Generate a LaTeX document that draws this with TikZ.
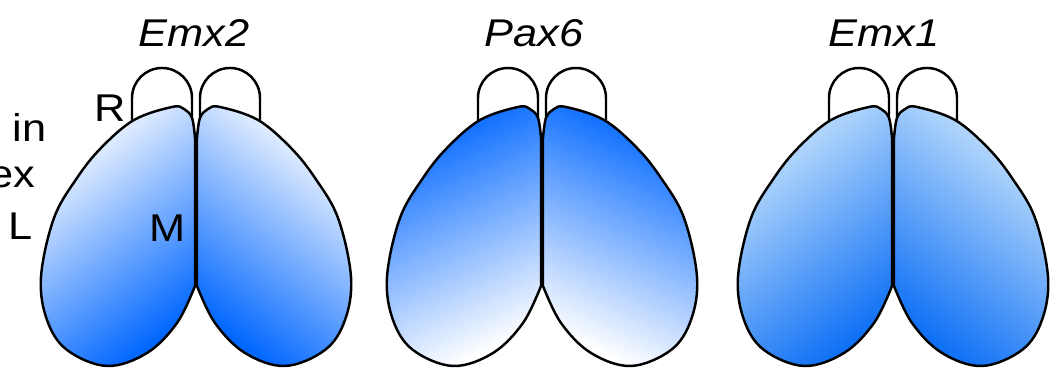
\documentclass[tikz,border=0pt]{standalone}
\usepackage{fontspec}
\setmainfont{Liberation Sans}[FakeStretch=1.12]

\definecolor{cortex}{RGB}{0,102,255}
\definecolor{pale}{RGB}{200,228,252}
\definecolor{emxblue}{RGB}{15,112,245}

\tikzset{
	lobe/.style={draw=black, line width=0.7pt},
	bulb/.style={draw=black, line width=0.7pt, fill=white},
	gene/.style={font=\fontsize{11}{13}\selectfont\itshape, anchor=base, inner sep=0pt},
	tag/.style={font=\fontsize{11}{13}\selectfont, inner sep=0pt},
	% expression gradients, one style per hemisphere
	emxtwoL/.style={top color=white, bottom color=cortex, shading angle=38},
	emxtwoR/.style={top color=white, bottom color=cortex, shading angle=-38},
	paxL/.style={top color=cortex, bottom color=white, shading angle=25},
	paxR/.style={top color=cortex, bottom color=white, shading angle=-25},
	emxoneL/.style={top color=pale, bottom color=emxblue, shading angle=38},
	emxoneR/.style={top color=pale, bottom color=emxblue, shading angle=-38}
}

% left hemisphere outline, midline at x=0
\newcommand{\lobepath}{plot[smooth, tension=0.6] coordinates {(-1,236) (-4,256) (-12,265) (-24,267)
	(-62,254) (-95,226) (-119,196) (-142,156) (-155,97) (-149,54) (-129,24) (-89,8)
	(-49,21) (-19,51) (-1,88)} -- cycle}

% olfactory bulbs, then both hemispheres on top
\newcommand{\brain}[2]{%
	\draw[bulb] (-64,230) -- (-64,276) arc[start angle=180, end angle=0, radius=30] -- (-4,230);
	\draw[bulb, xscale=-1] (-64,230) -- (-64,276) arc[start angle=180, end angle=0, radius=30] -- (-4,230);
	\draw[lobe, #1] \lobepath;
	\draw[lobe, #2, xscale=-1] \lobepath;
}

\begin{document}
\begin{tikzpicture}[x=0.01cm, y=0.01cm]
	\useasboundingbox (0,0) rectangle (1057,374);

	\node[tag, anchor=base east] (exprin) at (47,232) {n in};
	\node[tag, anchor=base east] (exprcx) at (36,186) {ex};
	\node[tag, anchor=base east] (lateral) at (33,134) {L};

	\begin{scope}[shift={(196,0)}]
		\brain{emxtwoL}{emxtwoR}
		\node[gene] (emx2) at (-2,327) {Emx2};
		\node[tag] (rostral) at (-86,266) {R};
		\node[tag] (medial) at (-28,146) {M};
	\end{scope}

	\begin{scope}[shift={(542,0)}]
		\brain{paxL}{paxR}
		\node[gene] (pax6) at (-8,327) {Pax6};
	\end{scope}

	\begin{scope}[shift={(893,0)}]
		\brain{emxoneL}{emxoneR}
		\node[gene] (emx1) at (-9,327) {Emx1};
	\end{scope}
\end{tikzpicture}
\end{document}
